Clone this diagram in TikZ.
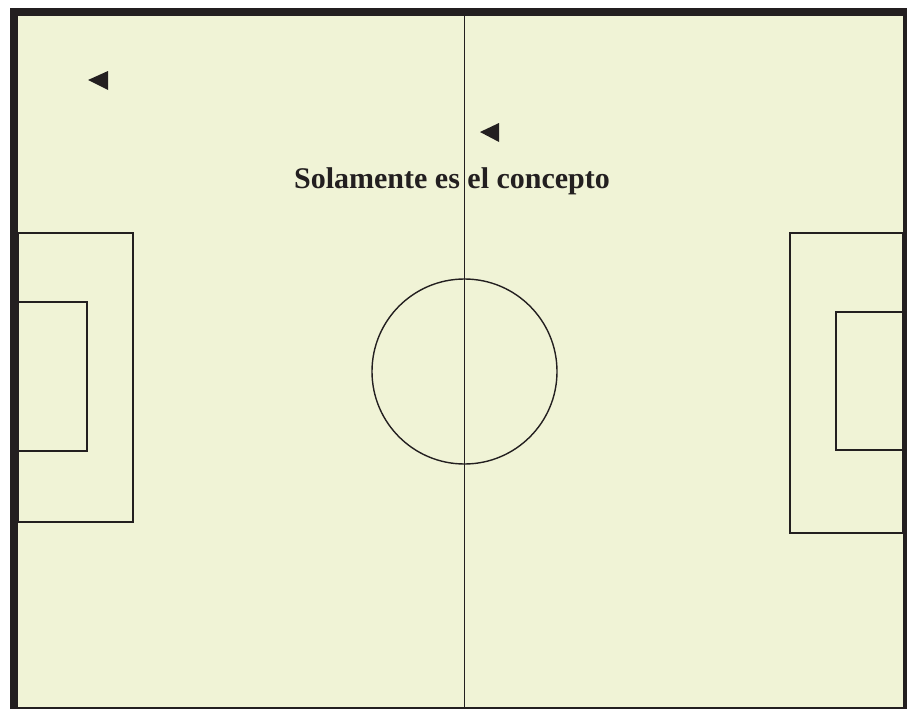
\documentclass[tikz,border=0pt]{standalone}
\usepackage{fontspec}
\setmainfont{Liberation Serif}
\definecolor{pitch}{HTML}{F0F3D6}
\definecolor{ink}{HTML}{231F20}

\begin{document}
\begin{tikzpicture}[x=1pt,y=-1pt,
    pline/.style={draw=ink,line width=1.4pt},
    marker/.style={fill=ink}]
  \useasboundingbox (0,0) rectangle (907,709);
  % grass
  \fill[pitch] (18,16) rectangle (903,707);
  % areas: left / top / right / bottom
  \foreach \xa/\ya/\xb/\yb in {
     18/233/133/522,
     18/302/87/451,
     790/233/903/533,
     836/312/903/450}{
       \draw[pline] (\xa,\ya) rectangle (\xb,\yb);
  }
  \draw[pline] (464.5,371.5) circle (92.5);
  \node[font=\bfseries\fontsize{30}{36}\selectfont,text=ink,anchor=base,inner sep=0pt]
    (concepto) at (452,188.5) {Solamente es el concepto};
  \coordinate (mtop) at (464.5,16);
  \coordinate (mbot) at (464.5,709);
  \draw[pline] (mtop) -- (mbot);
  % little arrows
  \fill[marker] (88,80) -- (108,71) -- (108,90) -- cycle;
  \fill[marker] (480,132) -- (499,123) -- (499,142) -- cycle;
  % frame
  \fill[ink] (10,8) rectangle (18,709);
  \fill[ink] (10,8) rectangle (907,16);
  \fill[ink] (903,8) rectangle (907,709);
  \fill[ink] (10,707) rectangle (907,709);
\end{tikzpicture}
\end{document}
